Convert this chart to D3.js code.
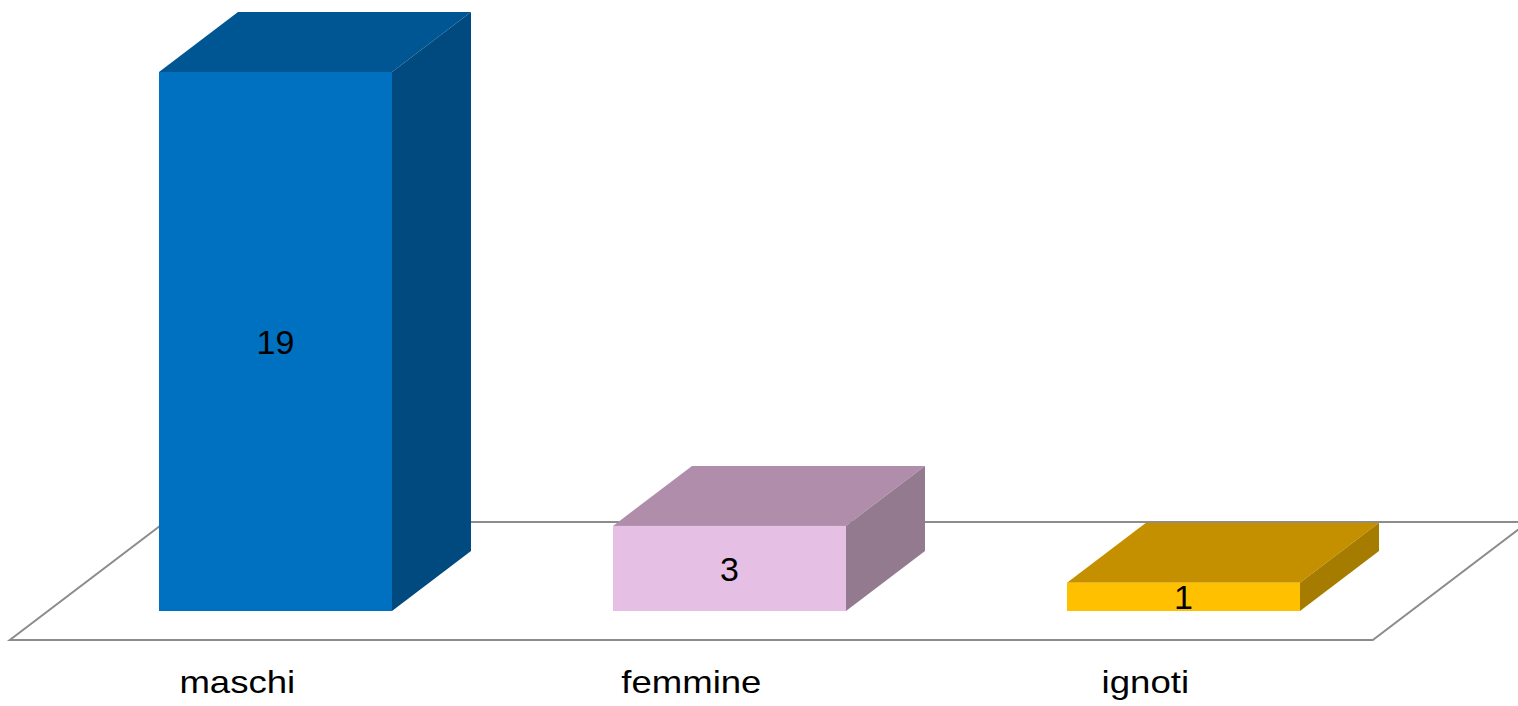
<!DOCTYPE html>
<html>
<head>
<meta charset="utf-8">
<script src="https://cdn.jsdelivr.net/npm/d3@7"></script>
<style>
  html, body { margin: 0; padding: 0; background: #ffffff; }
  svg { display: block; }
  text { font-family: "Liberation Sans", Arial, sans-serif; fill: #000; }
</style>
</head>
<body>
<svg id="chart" width="1518" height="706"></svg>
<script>
// ---- data ----
const categories = ["maschi", "femmine", "ignoti"];
const values = [19, 3, 1];
const frontColors = ["#0070C0", "#E6C0E4", "#FFC000"];
const topColors   = ["#005692", "#B08EAB", "#C49000"];
const sideColors  = ["#004A7F", "#937A8F", "#A67C00"];

// ---- layout ----
const W = 1518, H = 706;
const depthX = 79, depthY = -60;       // bar depth projection
const floorFrontGap = 29;              // floor extends in front / behind bars (px in y)
const floorSideGap = 111;              // floor extends left/right of bars

const svg = d3.select("#chart");

const x = d3.scaleBand()
  .domain(categories)
  .range([159, 1300])
  .paddingInner(0.4868)
  .paddingOuter(0);

const y = d3.scaleLinear()
  .domain([0, 19])
  .range([611, 72]);

const bw = x.bandwidth();
const y0 = y(0);

// ---- floor ----
const gapDX = floorFrontGap * depthX / -depthY;  // x shift for floor front
const fl = x.range()[0] - gapDX - floorSideGap;
const fr = x.range()[1] - gapDX + floorSideGap;
const fyFront = y0 + floorFrontGap;
const backShift = (floorFrontGap * 2 - depthY);   // total depth in y
const bdx = backShift * depthX / -depthY;
const fyBack = fyFront - backShift;

svg.append("path")
  .attr("d", `M${fl},${fyFront} L${fr},${fyFront} L${fr + bdx},${fyBack} L${fl + bdx},${fyBack} Z`)
  .attr("fill", "none")
  .attr("stroke", "#8c8c8c")
  .attr("stroke-width", 2);

// ---- bars ----
const bars = svg.append("g").selectAll("g")
  .data(categories.map((c, i) => ({ c, v: values[i], i })))
  .join("g");

// top face
bars.append("path")
  .attr("d", d => {
    const xl = x(d.c), xr = xl + bw, yt = y(d.v);
    return `M${xl},${yt} L${xl + depthX},${yt + depthY} L${xr + depthX},${yt + depthY} L${xr},${yt} Z`;
  })
  .attr("fill", d => topColors[d.i]);

// side face
bars.append("path")
  .attr("d", d => {
    const xr = x(d.c) + bw, yt = y(d.v);
    return `M${xr},${yt} L${xr + depthX},${yt + depthY} L${xr + depthX},${y0 + depthY} L${xr},${y0} Z`;
  })
  .attr("fill", d => sideColors[d.i]);

// front face
bars.append("rect")
  .attr("x", d => x(d.c))
  .attr("y", d => y(d.v))
  .attr("width", bw)
  .attr("height", d => y0 - y(d.v))
  .attr("fill", d => frontColors[d.i]);

// value labels
bars.append("text")
  .attr("x", d => x(d.c) + bw / 2)
  .attr("y", d => (y(d.v) + y0) / 2)
  .attr("dy", "0.36em")
  .attr("text-anchor", "middle")
  .attr("font-size", 34)
  .text(d => d.v);

// ---- category labels ----
svg.append("g").selectAll("text")
  .data(categories)
  .join("text")
  .attr("transform", d => `translate(${x(d) + bw / 2 - gapDX},693) scale(1.18,1)`)
  .attr("text-anchor", "middle")
  .attr("font-size", 31)
  .text(d => d);
</script>
</body>
</html>
